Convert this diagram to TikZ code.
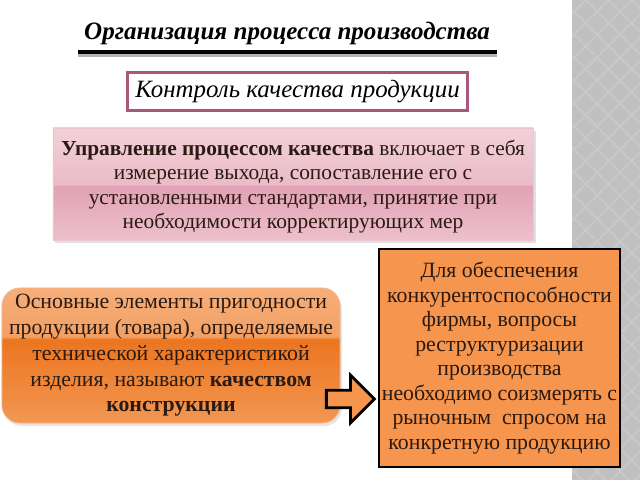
\documentclass[tikz,border=0pt]{standalone}
\usepackage{fontspec}
\setmainfont{Liberation Serif}
\usetikzlibrary{shapes.arrows}

\definecolor{txt}{HTML}{2A1A12}
\definecolor{pinkedge}{HTML}{A9577A}
\definecolor{pinkA}{HTML}{F2D1D9}
\definecolor{pinkB}{HTML}{EBBBC7}
\definecolor{pinkC}{HTML}{E1A2B4}
\definecolor{pinkD}{HTML}{EDC0CC}
\definecolor{orA}{HTML}{F6AE7A}
\definecolor{orB}{HTML}{F3A064}
\definecolor{orC}{HTML}{EC7520}
\definecolor{orD}{HTML}{F29752}
\definecolor{orflat}{HTML}{F6954D}
\definecolor{stripbg}{HTML}{C9C9C9}
\definecolor{stripdk}{HTML}{C0C0C0}

% glossy fills, stops kept inside 25bp..75bp
\pgfdeclareverticalshading{pinkgloss}{100bp}{color(0bp)=(pinkD); color(25bp)=(pinkD);
  color(49bp)=(pinkC); color(50bp)=(pinkB); color(75bp)=(pinkA); color(100bp)=(pinkA)}
\pgfdeclareverticalshading{orgloss}{100bp}{color(0bp)=(orD); color(25bp)=(orD);
  color(56bp)=(orC); color(57bp)=(orB); color(75bp)=(orA); color(100bp)=(orA)}

\begin{document}
\begin{tikzpicture}[x=0.025cm,y=-0.025cm]
  \tikzstyle{every node}=[text=txt]
  \tikzstyle{bodytext}=[font=\fontsize{15.2}{17.4}\selectfont, align=center, inner sep=0pt]
  \useasboundingbox (0,0) rectangle (640,480);

  % grey strip on the right
  \fill[stripbg] (571,0) rectangle (640,480);
  \begin{scope}
    \clip (572,0) rectangle (640,480);
    \foreach \j in {0,...,42} {
      \foreach \i in {0,...,3} {
        \pgfmathsetmacro{\cx}{574+23*\i+11.5*mod(\j,2)}
        \pgfmathsetmacro{\cy}{11.5*\j}
        \fill[stripdk] (\cx,\cy-10) -- (\cx+10,\cy) -- (\cx,\cy+10) -- (\cx-10,\cy) -- cycle;
      }
    }
  \end{scope}
  \draw[white, line width=1.2] (571.5,0) -- (571.5,480);

  % title
  \node[font=\fontsize{17.8}{21}\selectfont\bfseries\itshape, text=black] (title) at (287,33)
    {Организация процесса производства};
  \coordinate (rl) at (78,52);
  \coordinate (rr) at (497,52);
  \draw[black!30, line width=3] ([yshift=-2]rl) -- ([yshift=-2]rr);
  \draw[black, line width=3.4] (rl) -- (rr);

  \node[draw=pinkedge, line width=2.2, fill=white, minimum width=8.5cm, minimum height=0.97cm,
    font=\fontsize{17.7}{21}\selectfont\itshape, text=black] (ctrl) at (297.5,91.5)
    {Контроль качества продукции};

  % soft shadows
  \fill[black!12] (55,131) rectangle (536,243);
  \fill[black!10, rounded corners=0.45cm] (4,291) rectangle (342,426);

  \node[draw=pinkA!70!pinkC, line width=0.6, shading=pinkgloss, minimum width=12cm, minimum height=2.8cm,
    bodytext, text depth=0pt] (mgmt) at (293,184) {};
  \node[bodytext] (mgmttext) at ([yshift=-2]mgmt.center)
    {\textbf{Управление процессом качества} включает в себя\\
     измерение выхода, сопоставление его с\\
     установленными стандартами, принятие при\\
     необходимости корректирующих мер};

  \node[draw=orB!80!white, line width=0.6, shading=orgloss, rounded corners=0.45cm,
    minimum width=8.45cm, minimum height=3.375cm, bodytext,
    font=\fontsize{15.5}{18.3}\selectfont] (elem) at (171,355.5)
    {Основные элементы пригодности\\
     продукции (товара), определяемые\\
     технической характеристикой\\
     изделия, называют \textbf{качеством}\\
     \textbf{конструкции}};

  \node[draw=black, line width=2, fill=orflat, minimum width=6.02cm, minimum height=5.45cm,
    bodytext, font=\fontsize{15.5}{17.4}\selectfont] (firm) at (499.5,358)
    {Для обеспечения\\
     конкурентоспособности\\
     фирмы, вопросы\\
     реструктуризации\\
     производства\\
     необходимо соизмерять с\\
     рыночным~ спросом на\\
     конкретную продукцию};

  \node[single arrow, draw=black, line width=2, fill=orflat, minimum height=1.2cm,
    minimum width=1.2cm, single arrow tip angle=90, inner xsep=0pt, inner ysep=0.11cm]
    (arr) at (346,399) {};
\end{tikzpicture}
\end{document}
